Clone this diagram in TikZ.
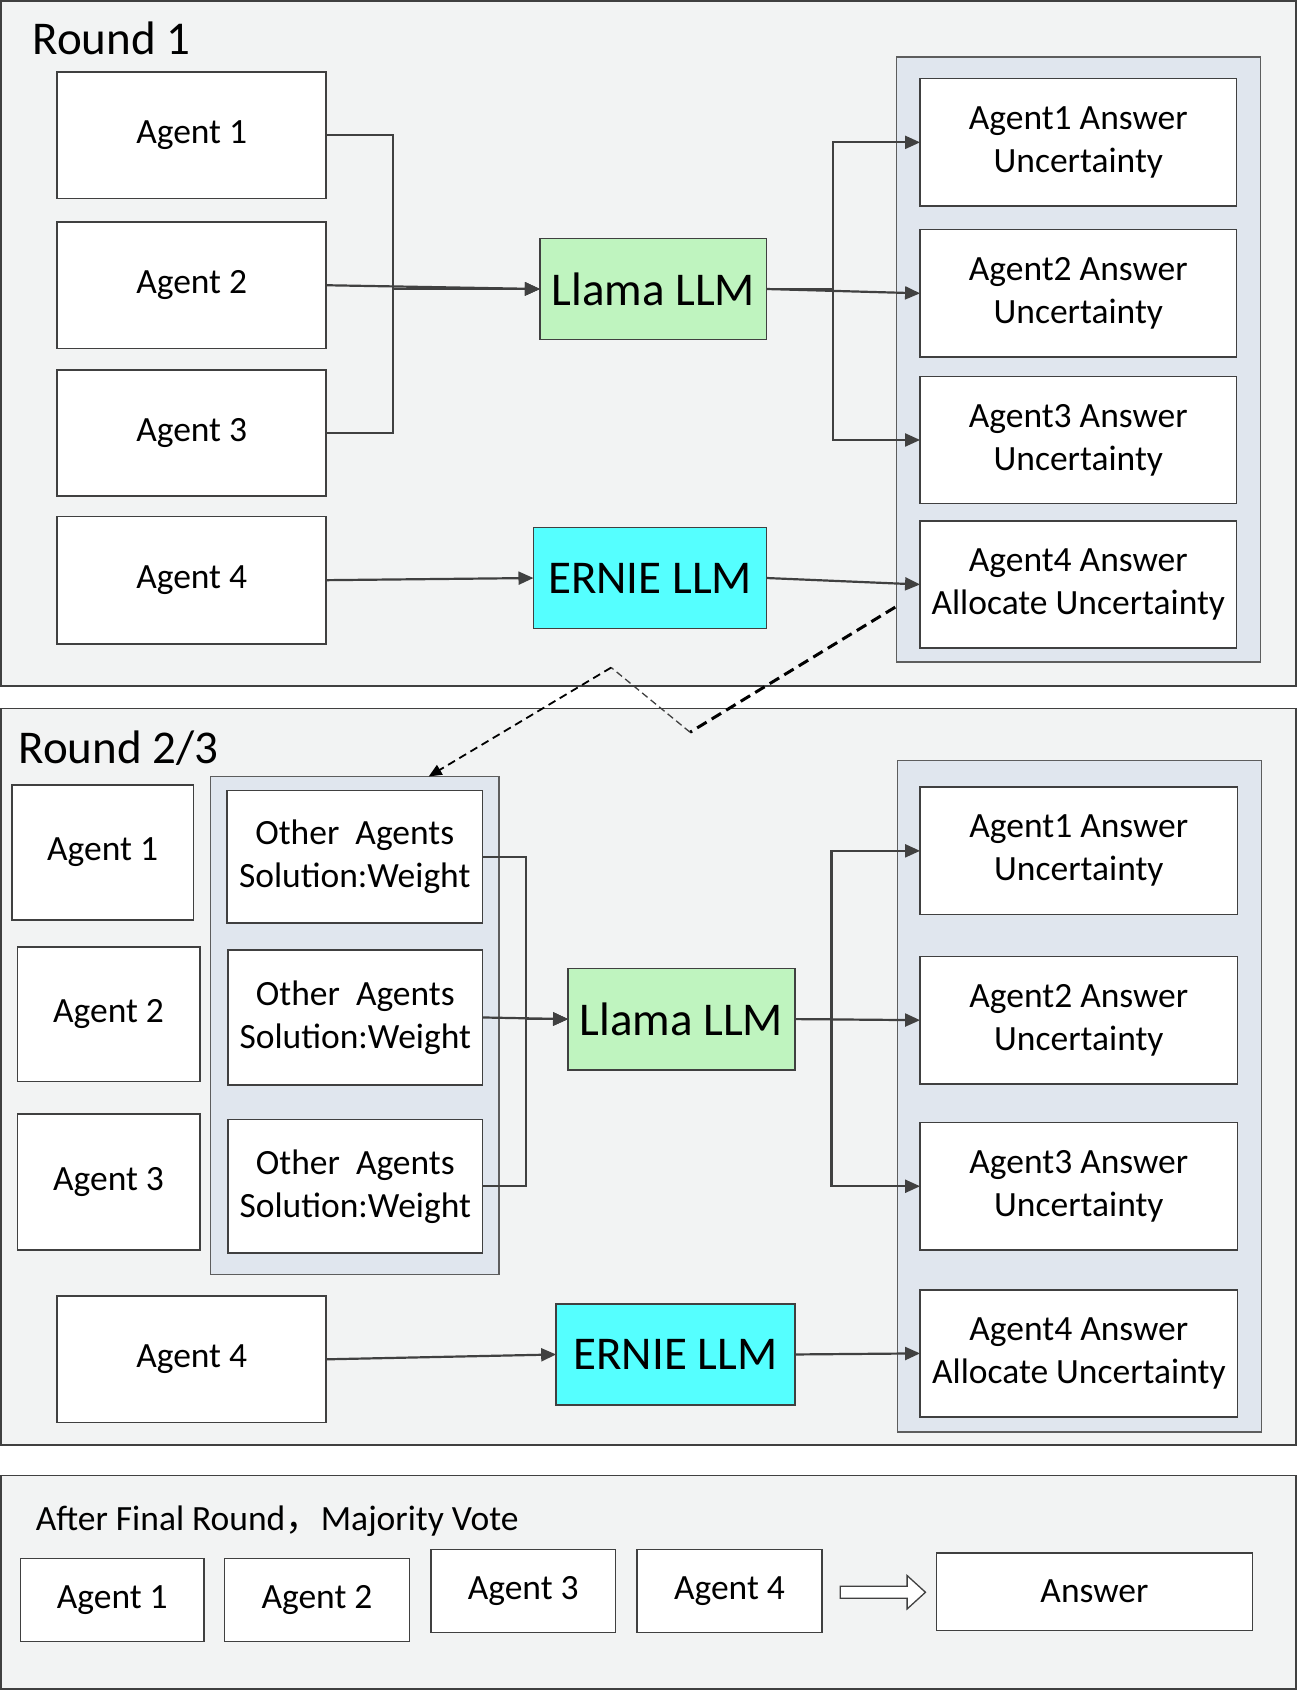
\documentclass[tikz,border=0pt]{standalone}
\usepackage{fontspec}
\setmainfont{Carlito}
\newfontfamily\cjk{Noto Sans CJK SC}
\usetikzlibrary{arrows.meta}
\definecolor{panelbg}{RGB}{242,243,243}
\definecolor{contbg}{RGB}{224,230,238}
\definecolor{llamag}{RGB}{191,244,191}
\definecolor{erniec}{RGB}{85,255,255}
\definecolor{edge}{RGB}{64,64,64}
\newcommand{\bx}[7]{\node[#6, minimum width={(#4-#2)*1.08pt}, minimum height={(#5-#3)*1.0785pt}] (#1) at ({(#2+#4)/2},{(#3+#5)/2}) {#7};}
\begin{document}
\begin{tikzpicture}[x=1.08pt,y=-1.0785pt,
 panel/.style={draw=edge, fill=panelbg, line width=1.5pt, inner sep=0pt, outer sep=0pt},
 cont/.style={draw=edge!85, fill=contbg, line width=1.5pt, inner sep=0pt, outer sep=0pt},
 box/.style={draw=edge, fill=white, line width=1.5pt, inner sep=0pt, outer sep=0pt, align=center, font=\fontsize{35.5}{43}\selectfont},
 llmg/.style={box, fill=llamag, font=\fontsize{47}{56}\selectfont},
 llmc/.style={box, fill=erniec, font=\fontsize{47}{56}\selectfont},
 conn/.style={draw=edge, line width=2.2pt, -{Triangle[length=15pt,width=13pt]}},
 title/.style={font=\fontsize{47}{56}\selectfont, inner sep=0pt, anchor=base west},
 body/.style={font=\fontsize{35.5}{43}\selectfont, inner sep=0pt, anchor=base west},
]
\fill[white] (0,0) rectangle (1201,1569);
\useasboundingbox (0,0) rectangle (1201,1569);

% ---------- panels ----------
\bx{p1}{1}{1}{1200}{636}{panel}{}
\bx{p2}{1}{657}{1200}{1340}{panel}{}
\bx{p3}{1}{1368}{1200}{1566}{panel}{}

% ---------- Round 1 ----------
\node[title] (t1) at (30,51) {Round 1};
\bx{a1}{53}{67}{302}{184}{box}{Agent 1}
\bx{a2}{53}{206}{302}{323}{box}{Agent 2}
\bx{a3}{53}{343}{302}{460}{box}{Agent 3}
\bx{a4}{53}{479}{302}{597}{box}{Agent 4}
\bx{llama}{500}{221}{710}{315}{llmg}{Llama LLM}
\bx{ernie}{494}{489}{710}{583}{llmc}{ERNIE LLM}
\bx{rc1}{830}{53}{1167}{614}{cont}{}
\bx{o1}{852}{73}{1145}{191}{box}{Agent1 Answer\\Uncertainty}
\bx{o2}{852}{213}{1145}{331}{box}{Agent2 Answer\\Uncertainty}
\bx{o3}{852}{349}{1145}{467}{box}{Agent3 Answer\\Uncertainty}
\bx{o4}{852}{483}{1145}{601}{box}{Agent4 Answer\\Allocate Uncertainty}

\draw[conn] (a1.east) -- ++(62,0) |- (llama.west);
\draw[conn] (a3.east) -- ++(62,0) |- (llama.west);
\draw[conn] (a2.east) -- (llama.west);
\draw[conn] (llama.east) -- ++(61,0) |- (o1.west);
\draw[conn] (llama.east) -- ++(61,0) |- (o3.west);
\draw[conn] (llama.east) -- (o2.west);
\draw[conn] (a4.east) -- (ernie.west);
\draw[conn] (ernie.east) -- (o4.west);

% ---------- Round 2/3 ----------
\node[title] (t2) at (17,708) {Round 2/3};
\bx{b1}{11}{728}{179}{853}{box}{Agent 1}
\bx{b2}{16}{878}{185}{1003}{box}{Agent 2}
\bx{b3}{16}{1033}{185}{1159}{box}{Agent 3}
\bx{b4}{53}{1202}{302}{1319}{box}{Agent 4}
\bx{oc}{195}{720}{462}{1182}{cont}{}
\bx{oa1}{210}{733}{447}{856}{box}{Other\ \ Agents\\Solution:Weight}
\bx{oa2}{211}{881}{447}{1006}{box}{Other\ \ Agents\\Solution:Weight}
\bx{oa3}{211}{1038}{447}{1162}{box}{Other\ \ Agents\\Solution:Weight}
\bx{llama2}{526}{898}{736}{992}{llmg}{Llama LLM}
\bx{ernie2}{515}{1209}{736}{1303}{llmc}{ERNIE LLM}
\bx{rc2}{831}{705}{1168}{1328}{cont}{}
\bx{q1}{852}{730}{1146}{848}{box}{Agent1 Answer\\Uncertainty}
\bx{q2}{852}{887}{1146}{1005}{box}{Agent2 Answer\\Uncertainty}
\bx{q3}{852}{1041}{1146}{1159}{box}{Agent3 Answer\\Uncertainty}
\bx{q4}{852}{1196}{1146}{1314}{box}{Agent4 Answer\\Allocate Uncertainty}

\draw[conn] (oa1.east) -- ++(40,0) |- (llama2.west);
\draw[conn] (oa3.east) -- ++(40,0) |- (llama2.west);
\draw[conn] (oa2.east) -- (llama2.west);
\draw[conn] (llama2.east) -- ++(34,0) |- (q1.west);
\draw[conn] (llama2.east) -- ++(34,0) |- (q3.west);
\draw[conn] (llama2.east) -- (q2.west);
\draw[conn] (b4.east) -- (ernie2.west);
\draw[conn] (ernie2.east) -- (q4.west);

% ---------- dashed feedback ----------
\coordinate (d0) at (829,563);
\coordinate (d1) at (639,679);
\coordinate (d2) at (566,619);
\coordinate (d3) at (397,720);
\draw[black, line width=3pt, dash pattern=on 11pt off 6pt] (d0) -- (d1);
\draw[edge, line width=1.3pt, dash pattern=on 7pt off 4pt] (d1) -- (d2);
\draw[black, line width=1.8pt, dash pattern=on 8pt off 5pt, -{Triangle[length=13pt,width=11pt]}] (d2) -- (d3);

% ---------- final round ----------
\node[body] (t3) at (33,1419) {After Final Round{\cjk ，}Majority Vote};
\bx{f1}{19}{1445}{189}{1522}{box}{Agent 1}
\bx{f2}{208}{1445}{379}{1522}{box}{Agent 2}
\bx{f3}{399}{1437}{570}{1514}{box}{Agent 3}
\bx{f4}{590}{1437}{761}{1514}{box}{Agent 4}
\bx{ans}{867}{1440}{1160}{1512}{box}{Answer}
\draw[edge, fill=white, line width=1.3pt] (778,1471) -- (840,1471) -- (840,1461) -- (857,1476.5) -- (840,1492) -- (840,1482) -- (778,1482) -- cycle;
\end{tikzpicture}
\end{document}
